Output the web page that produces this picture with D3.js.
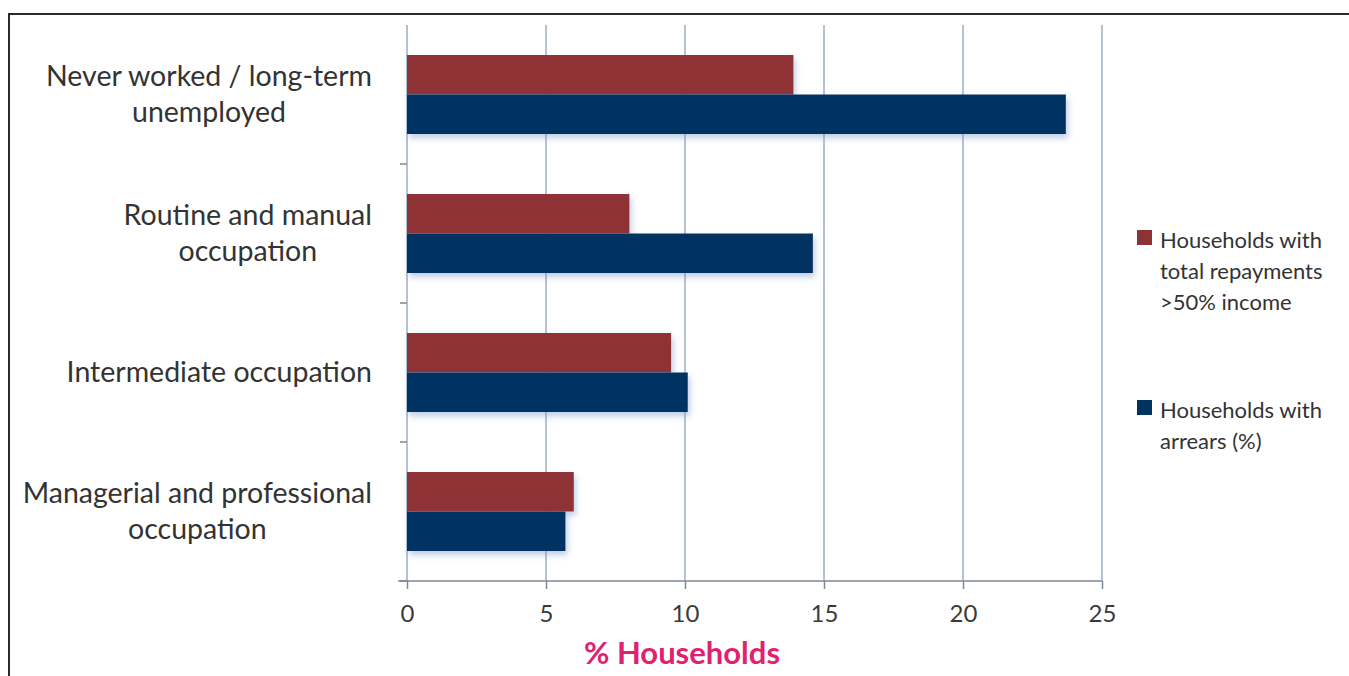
<!DOCTYPE html>
<html>
<head>
<meta charset="utf-8">
<script src="https://cdn.jsdelivr.net/npm/d3@7"></script>
<style>
  body { margin: 0; background: #fff; }
  svg { display: block; }
</style>
</head>
<body>
<div id="chart"></div>
<script>
// category labels, top to bottom (each entry = lines of the label)
const categories = [
  ["Never worked / long-term", "unemployed"],
  ["Routine and manual", "occupation"],
  ["Intermediate occupation"],
  ["Managerial and professional", "occupation"]
];
const seriesNames = ["repay", "arrears"];
const repayValues = [13.9, 8.0, 9.5, 6.0];    // total repayments >50% income
const arrearsValues = [23.7, 14.6, 10.1, 5.7]; // households with arrears (%)
const xTicks = [0, 5, 10, 15, 20, 25];
const legendLabels = [
  ["Households with", "total repayments", ">50% income"],
  ["Households with", "arrears (%)"]
];
const colors = ["#8e3335", "#003362"];

const W = 1349, H = 676;
const margin = {top: 25, right: 247, bottom: 95, left: 407};
const width = W - margin.left - margin.right,
      height = H - margin.top - margin.bottom;

const svg = d3.select("#chart").append("svg")
    .attr("width", W).attr("height", H)
    .style("font-family", "Lato, 'Open Sans', sans-serif");

// shadow under the bars
const defs = svg.append("defs");
const f = defs.append("filter").attr("id", "shadow")
    .attr("x", "-5%").attr("y", "-20%").attr("width", "115%").attr("height", "160%");
f.append("feDropShadow").attr("dx", 2).attr("dy", 4).attr("stdDeviation", 3)
    .attr("flood-color", "#6f8fc4").attr("flood-opacity", 0.45);

// outer frame (cropped)
svg.append("path")
    .attr("d", `M9,${H} L9,14 L${W},14`)
    .attr("fill", "none").attr("stroke", "#2a2a2a").attr("stroke-width", 2);

const g = svg.append("g").attr("transform", `translate(${margin.left},${margin.top})`);

const x = d3.scaleLinear().domain([0, 25]).range([0, width]);
const y0 = d3.scaleBand().domain(d3.range(categories.length)).range([0, height]).padding(0);
const y1 = d3.scaleBand().domain(seriesNames).range([0, y0.bandwidth()])
    .paddingInner(0).paddingOuter(0.76);

// gridlines
g.selectAll(".grid").data(xTicks).enter().append("line")
    .attr("x1", d => x(d)).attr("x2", d => x(d))
    .attr("y1", 0).attr("y2", height)
    .attr("stroke", "#b7c1d4").attr("stroke-width", 2);

// bars
const rows = categories.map((c, i) => ({i, vals: [repayValues[i], arrearsValues[i]]}));
const grp = g.selectAll(".cat").data(rows).enter().append("g")
    .attr("transform", d => `translate(0,${y0(d.i)})`);
grp.selectAll("rect").data(d => d.vals.map((v, k) => ({v, k}))).enter().append("rect")
    .attr("x", x(0))
    .attr("y", d => y1(seriesNames[d.k]))
    .attr("width", d => x(d.v) - x(0))
    .attr("height", y1.bandwidth())
    .attr("fill", d => colors[d.k])
    .attr("filter", "url(#shadow)");

// left axis ticks at category boundaries
const bounds = d3.range(categories.length + 1).map(i => i * y0.step());
g.selectAll(".ytick").data(bounds.slice(1)).enter().append("line")
    .attr("x1", -7).attr("x2", 0).attr("y1", d => d).attr("y2", d => d)
    .attr("stroke", "#7f8793").attr("stroke-width", 1.5);

// bottom axis
const xAxis = g.append("g").attr("transform", `translate(0,${height})`)
    .call(d3.axisBottom(x).tickValues(xTicks).tickSize(8).tickPadding(16));
xAxis.select(".domain").attr("stroke", "#7f8793").attr("stroke-width", 1.5)
    .attr("d", `M-9,0H${width}`);
xAxis.selectAll(".tick line").attr("stroke", "#7f8793").attr("stroke-width", 1.5);
xAxis.selectAll(".tick text").attr("fill", "#3a3a3a")
    .style("font-size", "24px").style("font-family", "Lato, 'Open Sans', sans-serif");

// category labels: lines centred on each other, block right-aligned
const labels = g.selectAll(".clabel").data(categories).enter().append("text")
    .attr("text-anchor", "middle").attr("fill", "#333")
    .style("font-size", "28.5px");
labels.each(function(lines, i) {
  const cy = y0(i) + y0.bandwidth() / 2;
  const lh = 36;
  const startY = cy - (lines.length - 1) * lh / 2;
  const sel = d3.select(this);
  const spans = sel.selectAll("tspan").data(lines).enter().append("tspan")
      .attr("y", (d, j) => startY + j * lh)
      .attr("dy", "0.35em").text(d => d);
  let maxW = 0;
  spans.each(function() { maxW = Math.max(maxW, this.getComputedTextLength()); });
  spans.attr("x", -35 - maxW / 2);
});

// x axis title
g.append("text").attr("x", x(10) - 3).attr("y", height + 83)
    .attr("text-anchor", "middle").attr("fill", "#e0226e")
    .style("font-size", "31px").style("font-weight", "bold")
    .text("% Households");

// legend
const legend = svg.append("g");
const legendY = [240, 410];
legendLabels.forEach((lines, k) => {
  legend.append("rect").attr("x", 1137).attr("y", legendY[k] - 10)
      .attr("width", 15).attr("height", 15).attr("fill", colors[k]);
  const t = legend.append("text").attr("fill", "#333").style("font-size", "22px");
  t.selectAll("tspan").data(lines).enter().append("tspan")
      .attr("x", 1160).attr("y", (d, j) => legendY[k] + j * 31)
      .attr("dy", "0.35em").text(d => d);
});
</script>
</body>
</html>
